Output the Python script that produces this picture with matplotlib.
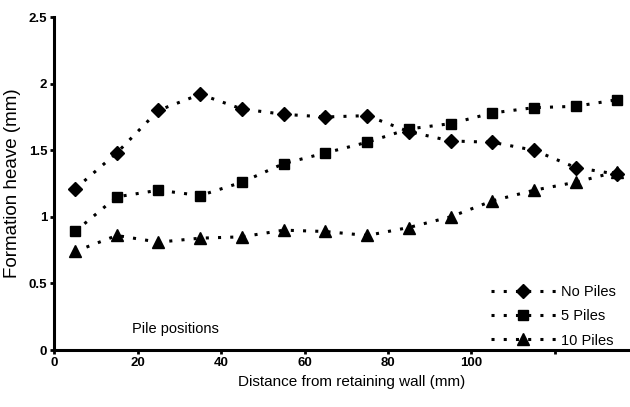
import matplotlib.pyplot as plt
import numpy as np

# distance from retaining wall (mm)
dist = np.array([5, 15, 25, 35, 45, 55, 65, 75, 85, 95, 105, 115, 125, 135])

no_piles   = np.array([1.21, 1.48, 1.80, 1.92, 1.81, 1.77, 1.75, 1.76, 1.64, 1.57, 1.56, 1.50, 1.37, 1.32])
five_piles = np.array([0.89, 1.15, 1.20, 1.16, 1.26, 1.40, 1.48, 1.56, 1.66, 1.70, 1.78, 1.82, 1.83, 1.88])
ten_piles  = np.array([0.74, 0.86, 0.81, 0.84, 0.85, 0.90, 0.89, 0.86, 0.92, 1.00, 1.12, 1.20, 1.26, 1.34])

xticks = [0, 20, 40, 60, 80, 100, 120]
xticklabels = ['0', '20', '40', '60', '80', '100', '']
yticks = [0, 0.5, 1, 1.5, 2, 2.5]
yticklabels = ['0', '0.5', '1', '1.5', '2', '2.5']

plt.rcParams['font.family'] = ['Liberation Sans', 'DejaVu Sans']

fig = plt.figure(figsize=(6.3, 4.07), dpi=100)
ax = fig.add_axes([0.086, 0.14, 0.914, 0.818])

dots = (0, (1.0, 3.0))
ax.plot(dist, no_piles, linestyle=dots, lw=2.2, color='black', marker='D', markersize=7, label='No Piles')
ax.plot(dist, five_piles, linestyle=dots, lw=2.2, color='black', marker='s', markersize=7, label='5 Piles')
ax.plot(dist, ten_piles, linestyle=dots, lw=2.2, color='black', marker='^', markersize=8, label='10 Piles')

ax.set_xlim(0, 138)
ax.set_ylim(0, 2.5)
ax.set_xticks(xticks)
ax.set_xticklabels(xticklabels, fontsize=9.5, fontweight='bold')
ax.set_yticks(yticks)
ax.set_yticklabels(yticklabels, fontsize=9.5, fontweight='bold')
ax.tick_params(direction='out', length=3, width=2, pad=2)

for s in ['top', 'right']:
    ax.spines[s].set_visible(False)
for s in ['left', 'bottom']:
    ax.spines[s].set_linewidth(2.2)

ax.set_xlabel('Distance from retaining wall (mm)', fontsize=11)
ax.xaxis.set_label_coords(0.517, -0.075)
ax.set_ylabel('Formation heave (mm)', fontsize=13.5)
ax.yaxis.set_label_coords(-0.058, 0.5)

ax.text(29, 0.16, 'Pile positions', fontsize=10.5, ha='center', va='center')

ax.legend(loc='lower right', frameon=False, fontsize=10.5, handlelength=4.5,
          handletextpad=0.3, labelspacing=0.7, borderaxespad=0.0,
          bbox_to_anchor=(0.985, -0.01))

plt.savefig('out.png', dpi=100)
